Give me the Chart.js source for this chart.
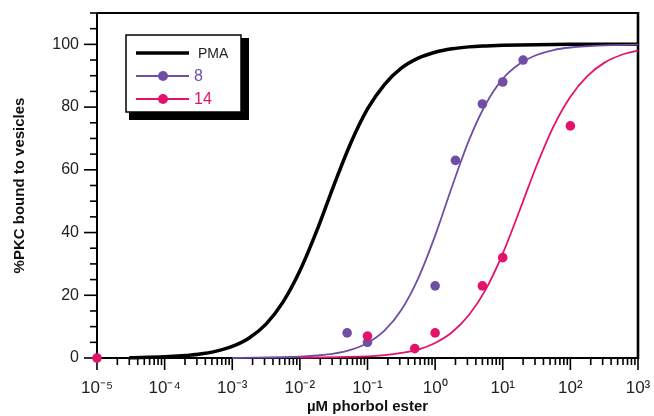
<!DOCTYPE html>
<html>
<head>
<meta charset="utf-8">
<title>PKC binding to vesicles</title>
<script src="https://cdn.jsdelivr.net/npm/chart.js@4.4.1/dist/chart.umd.min.js"></script>
<style>
  html, body { margin: 0; padding: 0; background: #fff; }
  #wrap { width: 654px; height: 416px; }
</style>
</head>
<body>
<div id="wrap"><canvas id="pkc-chart" width="654" height="416"></canvas></div>
<script>
'use strict'

// Series names (legend)
var seriesNames = ['PMA', '8', '14']

// Axis ticks
var xDecades = [1e-5, 1e-4, 1e-3, 1e-2, 1e-1, 1, 10, 100, 1000]
var yTicks = [0, 20, 40, 60, 80, 100]
var yMinorTicks = [0, 5, 10, 15, 20, 25, 30, 35, 40, 45, 50, 55, 60, 65, 70, 75, 80, 85, 90, 95, 100, 105, 110]

// Fitted curves
var pmaX = [3e-5, 1e-4, 1.78e-4, 3.16e-4, 5.62e-4, 1e-3, 1.78e-3, 3.16e-3, 5.62e-3, 1e-2, 1.78e-2, 3.16e-2, 5.62e-2, 0.1, 0.178, 0.316, 0.562, 1, 1.78, 3.16, 5.62, 10, 31.6, 100, 1000]
var pmaY = [0.1, 0.4, 0.7, 1.2, 2.1, 3.7, 6.4, 10.8, 17.8, 27.8, 40.6, 54.9, 68.4, 79.4, 87.2, 92.4, 95.6, 97.5, 98.6, 99.2, 99.5, 99.7, 99.9, 100, 100]

var c8CurveX = [1e-3, 1e-2, 1.78e-2, 3.16e-2, 5.62e-2, 0.1, 0.178, 0.316, 0.562, 1, 1.78, 3.16, 5.62, 10, 17.8, 31.6, 56.2, 100, 316, 1000]
var c8CurveY = [0, 0.4, 0.8, 1.4, 2.6, 4.8, 8.7, 15.3, 25.4, 39.0, 54.7, 69.4, 81.0, 89.0, 93.8, 96.6, 98.2, 99.0, 99.7, 99.9]

var c14CurveX = [1e-2, 0.1, 0.178, 0.316, 0.562, 1, 1.78, 3.16, 5.62, 10, 17.8, 31.6, 56.2, 100, 178, 316, 562, 1000]
var c14CurveY = [0.1, 0.5, 0.9, 1.6, 2.7, 4.8, 8.2, 13.7, 21.9, 33.3, 47.1, 61.3, 73.8, 83.3, 89.9, 94.1, 96.6, 98.0]

// Measured points
var c8PointsX = [0.05, 0.1, 1, 2, 5, 10, 20]
var c8PointsY = [8, 5, 23, 63, 81, 88, 95]
var c14PointsX = [1e-5, 0.1, 0.5, 1, 5, 10, 100]
var c14PointsY = [0, 7, 3, 8, 23, 32, 74]

var FONT = "'Liberation Sans', Arial, Helvetica, sans-serif"
var PURPLE = '#6f4ea3'
var PINK = '#e3136c'
var SUP = { '-': '\u207B', '0': '\u2070', '1': '\u00B9', '2': '\u00B2', '3': '\u00B3', '4': '\u2074', '5': '\u2075' }

function pairs(xs, ys) {
  return xs.map(function (x, i) { return { x: x, y: ys[i] } })
}

function decadeLabel(v) {
  var e = String(Math.round(Math.log10(v)))
  return '10' + e.split('').map(function (c) { return SUP[c] || c }).join('')
}

function noScalePadding(scale) {
  scale.paddingLeft = 0
  scale.paddingRight = 0
  scale.paddingTop = 0
  scale.paddingBottom = 0
}

// axis lines, frame and tick marks (major/minor)
var axesPlugin = {
  id: 'axesPlugin',
  beforeDatasetsDraw: function (chart) {
    var ctx = chart.ctx
    var a = chart.chartArea
    var xs = chart.scales.x
    var ys = chart.scales.y
    ctx.save()
    ctx.strokeStyle = '#000'
    ctx.lineCap = 'butt'

    ctx.lineWidth = 1.6
    yMinorTicks.forEach(function (v) {
      var py = ys.getPixelForValue(v)
      var len = yTicks.indexOf(v) >= 0 ? 13 : 7
      ctx.beginPath()
      ctx.moveTo(a.left - len, py)
      ctx.lineTo(a.left, py)
      ctx.stroke()
    })

    xDecades.forEach(function (d, i) {
      var px = xs.getPixelForValue(d)
      ctx.beginPath()
      ctx.moveTo(px, a.bottom)
      ctx.lineTo(px, a.bottom + 12)
      ctx.stroke()
      if (i === xDecades.length - 1) return
      for (var m = 2; m <= 9; m++) {
        var mx = xs.getPixelForValue(d * m)
        ctx.beginPath()
        ctx.moveTo(mx, a.bottom)
        ctx.lineTo(mx, a.bottom + 7)
        ctx.stroke()
      }
    })

    ctx.lineWidth = 2
    ctx.beginPath()
    ctx.moveTo(a.left, a.top)
    ctx.lineTo(a.left, a.bottom + 1)
    ctx.moveTo(a.left - 1, a.bottom)
    ctx.lineTo(a.right, a.bottom)
    ctx.moveTo(a.left, a.top)
    ctx.lineTo(a.right, a.top)
    ctx.stroke()
    ctx.lineWidth = 2.6
    ctx.beginPath()
    ctx.moveTo(a.right, a.top - 1)
    ctx.lineTo(a.right, a.bottom + 1)
    ctx.stroke()
    ctx.restore()
  }
}

// boxed legend with drop shadow, inside the plot
var boxLegend = {
  id: 'boxLegend',
  afterDraw: function (chart) {
    var ctx = chart.ctx
    var bx = 126, by = 35, bw = 115, bh = 77
    ctx.save()
    ctx.fillStyle = '#000'
    ctx.fillRect(bx + 3, by + 3, bw + 5, bh + 5)
    ctx.fillStyle = '#fff'
    ctx.fillRect(bx, by, bw, bh)
    ctx.strokeStyle = '#000'
    ctx.lineWidth = 1.5
    ctx.strokeRect(bx, by, bw, bh)

    var items = [
      { text: seriesNames[0], color: '#000', textColor: '#222', width: 3.5, dot: false, size: 14 },
      { text: seriesNames[1], color: PURPLE, textColor: PURPLE, width: 2, dot: true, size: 16 },
      { text: seriesNames[2], color: PINK, textColor: PINK, width: 2, dot: true, size: 16 }
    ]
    items.forEach(function (it, i) {
      var y = by + 18 + i * 23
      ctx.strokeStyle = it.color
      ctx.lineWidth = it.width
      ctx.beginPath()
      ctx.moveTo(bx + 10, y)
      ctx.lineTo(bx + 63, y)
      ctx.stroke()
      if (it.dot) {
        ctx.fillStyle = it.color
        ctx.beginPath()
        ctx.arc(bx + 37, y, 5, 0, Math.PI * 2)
        ctx.fill()
      }
      ctx.fillStyle = it.textColor
      ctx.font = it.size + 'px ' + FONT
      ctx.textBaseline = 'middle'
      ctx.fillText(it.text, bx + (it.dot ? 68 : 72), y + 1)
    })
    ctx.restore()
  }
}

var ctx = document.getElementById('pkc-chart').getContext('2d')

var pkcChart = new Chart(ctx, {
  type: 'scatter',
  data: {
    datasets: [
      {
        label: seriesNames[0],
        data: pairs(pmaX, pmaY),
        showLine: true,
        borderColor: '#000',
        borderWidth: 3.5,
        pointRadius: 0,
        cubicInterpolationMode: 'monotone',
        clip: false,
        order: 5
      },
      {
        label: seriesNames[1],
        data: pairs(c8CurveX, c8CurveY),
        showLine: true,
        borderColor: PURPLE,
        borderWidth: 1.8,
        pointRadius: 0,
        cubicInterpolationMode: 'monotone',
        clip: false,
        order: 4
      },
      {
        label: seriesNames[2],
        data: pairs(c14CurveX, c14CurveY),
        showLine: true,
        borderColor: PINK,
        borderWidth: 1.8,
        pointRadius: 0,
        cubicInterpolationMode: 'monotone',
        clip: false,
        order: 3
      },
      {
        label: seriesNames[1] + ' data',
        data: pairs(c8PointsX, c8PointsY),
        backgroundColor: PURPLE,
        borderWidth: 0,
        pointRadius: 4.8,
        clip: false,
        order: 2
      },
      {
        label: seriesNames[2] + ' data',
        data: pairs(c14PointsX, c14PointsY),
        backgroundColor: PINK,
        borderWidth: 0,
        pointRadius: 4.8,
        clip: false,
        order: 1
      }
    ]
  },
  options: {
    responsive: false,
    animation: false,
    devicePixelRatio: 1,
    layout: { padding: { top: 13, right: 16, left: 0, bottom: 0 } },
    plugins: {
      legend: { display: false },
      tooltip: { enabled: false }
    },
    scales: {
      x: {
        type: 'logarithmic',
        min: 1e-5,
        max: 1e3,
        grid: { display: false, drawTicks: false },
        border: { display: false },
        afterBuildTicks: function (scale) {
          scale.ticks = xDecades.map(function (v) { return { value: v } })
        },
        afterFit: function (scale) {
          scale.height = 58
          noScalePadding(scale)
        },
        ticks: {
          autoSkip: false,
          maxRotation: 0,
          padding: 20,
          color: '#222',
          font: { family: FONT, size: 17 },
          callback: function (v) { return decadeLabel(v) }
        },
        title: {
          display: true,
          text: 'µM phorbol ester',
          color: '#111',
          font: { family: FONT, size: 15, weight: 'bold' },
          padding: { top: 0, bottom: 0 }
        }
      },
      y: {
        min: 0,
        max: 110,
        grid: { display: false, drawTicks: false },
        border: { display: false },
        afterBuildTicks: function (scale) {
          scale.ticks = yTicks.map(function (v) { return { value: v } })
        },
        afterFit: function (scale) {
          scale.width = 97
          noScalePadding(scale)
        },
        ticks: {
          padding: 18,
          color: '#222',
          font: { family: FONT, size: 16 }
        },
        title: {
          display: true,
          text: '%PKC bound to vesicles',
          color: '#111',
          font: { family: FONT, size: 15, weight: 'bold' },
          padding: { top: 11, bottom: 0 }
        }
      }
    }
  },
  plugins: [axesPlugin, boxLegend]
})
</script>
</body>
</html>
